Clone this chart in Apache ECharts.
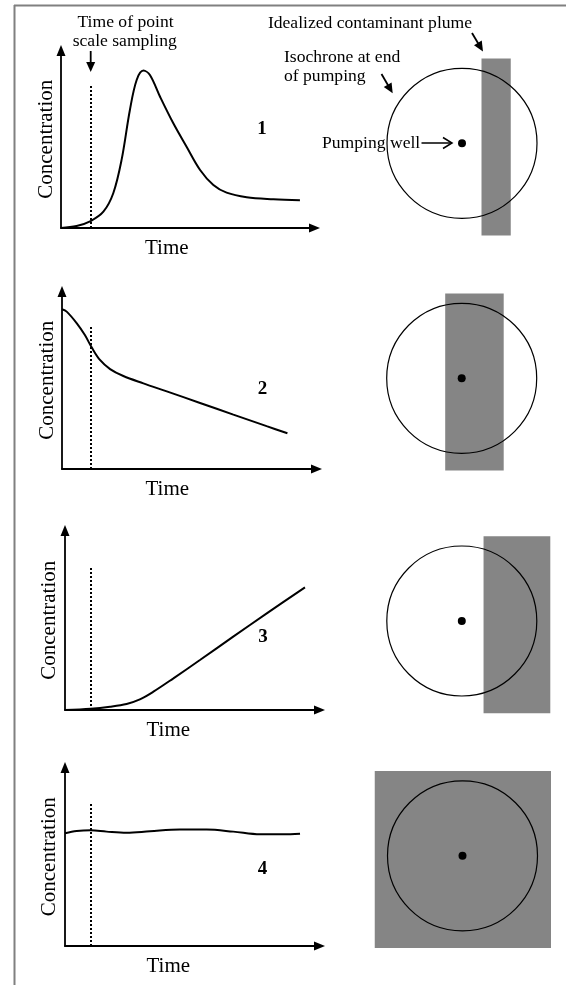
<!DOCTYPE html>
<html><head><meta charset="utf-8">
<script src="https://cdn.jsdelivr.net/npm/echarts@6/dist/echarts.min.js"></script>
<style>html,body{margin:0;padding:0;background:#fff}#c{width:566px;height:985px}</style>
</head><body><div id="c"></div>
<script>
// ---------------- data ----------------
const panelLabels = ['1', '2', '3', '4'];
const xAxisName = 'Time';
const yAxisName = 'Concentration';
const samplingNote = ['Time of point', 'scale sampling'];
const plumeNote = 'Idealized contaminant plume';
const isochroneNote = ['Isochrone at end', 'of pumping'];
const wellNote = 'Pumping well';

// time of point-scale sampling (same x units as the curves) and height of the dotted marker
const samplingTime = [11.4, 11.0, 9.9, 9.9];
const samplingTop = [78, 78, 77.6, 77.6];

// concentration vs time curves [time, concentration]
const curve1 = [[0,0],[6,1.1],[11.4,3.8],[16.3,8.9],[20.1,19],[23.3,37.2],[26.5,64.5],[29.1,80.9],[31.7,86],[34.2,83.6],[38.1,71.7],[43.2,57.2],[48.3,44.4],[53.5,31.7],[58.6,23.5],[63.7,19.3],[71.4,16.8],[81.7,15.7],[91.9,15.1]];
const curve2 = [[0,87.3],[1.8,86],[5.7,79.6],[8.8,73.2],[11.4,66.5],[14.6,59.6],[18.5,54.6],[23.6,50.8],[31.3,46.8],[40.3,42.4],[53.1,36.1],[65.9,29.7],[78.7,23.4],[86.7,19.5]];
const curve3 = [[0,0],[9.9,0.7],[17.3,1.8],[23.7,3.3],[28.8,5.8],[34,10],[41.7,17.3],[51.9,27.3],[64.7,40.1],[77.6,52.8],[92.3,67]];
const curve4 = [[0,61.6],[4.5,62.8],[9.9,63.2],[16,62.5],[23.7,61.9],[32.7,62.7],[44.2,63.6],[54.5,63.6],[64.7,62.5],[75,61],[84,61],[90.4,61.4]];
const curves = [curve1, curve2, curve3, curve4];

// plan-view diagrams (units: isochrone radius = 1, well at origin)
const plumeX = [[0.26, 0.65], [-0.22, 0.56], [0.29, 1.18], [-1.17, 1.18]];
const plumeY = [-1.23, 1.13];
const isochroneRadius = 1;
const wellXY = [0, 0];

// ---------------- layout / style ----------------
const FONT = '"Liberation Serif","Times New Roman",serif';
const PX_X = 2.6, PX_Y = 1.83;   // pixels per data unit on the left charts
const ARW = 11;                  // axis arrow length
const leftPanels = [
  {left: 61, bottom: 228, tipX: 320, tipY: 45, nameShift: 21, yGap: 4},
  {left: 62, bottom: 469, tipX: 322, tipY: 286, nameShift: 22, yGap: 4},
  {left: 65, bottom: 710, tipX: 325, tipY: 525, nameShift: 24, yGap: 5},
  {left: 65, bottom: 946, tipX: 325, tipY: 762, nameShift: 24, yGap: 5}
];
const rightCenters = [[462, 143.3], [461.7, 378.3], [461.8, 621], [462.5, 855.8]];
const UNIT = 75, HALF = 1.3;
const labelPos = [[262, 129], [262.5, 389], [263, 637.5], [262.5, 869]];
const GRAY = '#858585';

const grid = [], xAxis = [], yAxis = [], series = [];

leftPanels.forEach((p, i) => {
  const top = p.tipY + ARW / 2;
  const right = p.tipX - ARW / 2;
  const w = right - p.left, h = p.bottom - top;
  grid.push({left: p.left, top: top, width: w, height: h, containLabel: false, outerBoundsMode: 'none'});
  const axisLine = {show: true, onZero: false, symbol: ['none', 'triangle'], symbolSize: [9, ARW], lineStyle: {color: '#000', width: 1.8}};
  xAxis.push({gridIndex: i, type: 'value', min: 0, max: w / PX_X, axisLine: axisLine,
    axisTick: {show: false}, axisLabel: {show: false}, splitLine: {show: false},
    name: xAxisName, nameLocation: 'middle', nameGap: 10,
    nameTextStyle: {fontFamily: FONT, fontSize: 21, color: '#000', padding: [0, 2 * p.nameShift, 0, 0]}});
  yAxis.push({gridIndex: i, type: 'value', min: 0, max: h / PX_Y, axisLine: axisLine,
    axisTick: {show: false}, axisLabel: {show: false}, splitLine: {show: false},
    name: yAxisName, nameLocation: 'middle', nameGap: p.yGap, nameRotate: 90,
    nameTextStyle: {fontFamily: FONT, fontSize: 21, color: '#000'}});
  series.push({type: 'line', xAxisIndex: i, yAxisIndex: i, data: curves[i], smooth: 0.35,
    symbol: 'none', lineStyle: {color: '#000', width: 2}, silent: true,
    markLine: {silent: true, symbol: 'none', label: {show: false}, animation: false,
      lineStyle: {color: '#000', type: [2, 2], width: 2},
      data: [[{coord: [samplingTime[i], 0]}, {coord: [samplingTime[i], samplingTop[i]]}]]}});
});

rightCenters.forEach((c, k) => {
  const i = 4 + k;
  grid.push({left: c[0] - HALF * UNIT, top: c[1] - HALF * UNIT, width: 2 * HALF * UNIT, height: 2 * HALF * UNIT, containLabel: false, outerBoundsMode: 'none'});
  xAxis.push({gridIndex: i, type: 'value', min: -HALF, max: HALF, show: false});
  yAxis.push({gridIndex: i, type: 'value', min: -HALF, max: HALF, show: false});
  series.push({type: 'custom', xAxisIndex: i, yAxisIndex: i, z: 1, silent: true,
    data: [[plumeX[k][0], plumeX[k][1], plumeY[0], plumeY[1]]], encode: {x: [0, 1], y: [2, 3]},
    renderItem: (params, api) => {
      const a = api.coord([api.value(0), api.value(3)]);
      const b = api.coord([api.value(1), api.value(2)]);
      return {type: 'rect', shape: {x: a[0], y: a[1], width: b[0] - a[0], height: b[1] - a[1]}, style: {fill: GRAY}};
    }});
  series.push({type: 'custom', xAxisIndex: i, yAxisIndex: i, z: 2, silent: true,
    data: [[wellXY[0], wellXY[1], isochroneRadius]], encode: {x: 0, y: 1},
    renderItem: (params, api) => {
      const o = api.coord([api.value(0), api.value(1)]);
      const r = api.size([api.value(2), 0])[0];
      return {type: 'circle', shape: {cx: o[0], cy: o[1], r: r}, style: {fill: 'none', stroke: '#000', lineWidth: 1.2}};
    }});
  series.push({type: 'scatter', xAxisIndex: i, yAxisIndex: i, z: 3, silent: true,
    data: [wellXY], symbol: 'circle', symbolSize: 8, itemStyle: {color: '#000', opacity: 1}});
});

// ---------------- annotations ----------------
function txt(s, x, y, size, align, bold) {
  return {type: 'text', x: x, y: y, silent: true, style: {text: s, fontFamily: FONT, fontSize: size,
    fontWeight: bold ? 'bold' : 'normal', fill: '#000', align: align, textAlign: align,
    verticalAlign: 'middle', textVerticalAlign: 'middle'}};
}
function arrow(x1, y1, x2, y2, len, wid, open) {
  const dx = x2 - x1, dy = y2 - y1, L = Math.hypot(dx, dy);
  const ux = dx / L, uy = dy / L, nx = -uy, ny = ux;
  const bx = x2 - ux * len, by = y2 - uy * len;
  const pA = [bx + nx * wid / 2, by + ny * wid / 2], pB = [bx - nx * wid / 2, by - ny * wid / 2];
  const els = [];
  if (open) {
    els.push({type: 'line', silent: true, shape: {x1: x1, y1: y1, x2: x2 - ux * 1, y2: y2 - uy * 1}, style: {stroke: '#000', lineWidth: 1.5}});
    els.push({type: 'polyline', silent: true, shape: {points: [pA, [x2, y2], pB]}, style: {stroke: '#000', lineWidth: 1.5, fill: null}});
  } else {
    els.push({type: 'line', silent: true, shape: {x1: x1, y1: y1, x2: bx + ux, y2: by + uy}, style: {stroke: '#000', lineWidth: 1.8}});
    els.push({type: 'polygon', silent: true, shape: {points: [pA, [x2, y2], pB]}, style: {fill: '#000'}});
  }
  return els;
}

const AN = 17.6;
const graphic = [
  {type: 'line', silent: true, shape: {x1: 14, y1: 5.5, x2: 566, y2: 5.5}, style: {stroke: '#808080', lineWidth: 2}},
  {type: 'line', silent: true, shape: {x1: 14.5, y1: 5, x2: 14.5, y2: 985}, style: {stroke: '#808080', lineWidth: 2}},
  txt(samplingNote[0], 125.5, 22, AN, 'center'),
  txt(samplingNote[1], 124.7, 41.5, AN, 'center'),
  txt(plumeNote, 370, 23.5, AN, 'center'),
  txt(isochroneNote[0], 284, 57, AN, 'left'),
  txt(isochroneNote[1], 284, 76, AN, 'left'),
  txt(wellNote, 322, 143, AN, 'left'),
  ...arrow(90.7, 51, 90.7, 72, 10, 9, false),
  ...arrow(472, 33, 483, 51.5, 10, 9, false),
  ...arrow(381.5, 74, 392.7, 93.3, 10, 9, false),
  ...arrow(421.5, 143, 452, 143, 9, 11, true)
];
panelLabels.forEach((s, i) => graphic.push(txt(s, labelPos[i][0], labelPos[i][1], 19, 'center', true)));

const chart = echarts.init(document.getElementById('c'), null, {renderer: 'canvas'});
chart.setOption({animation: false, backgroundColor: '#fff', grid, xAxis, yAxis, series, graphic});
</script></body></html>
